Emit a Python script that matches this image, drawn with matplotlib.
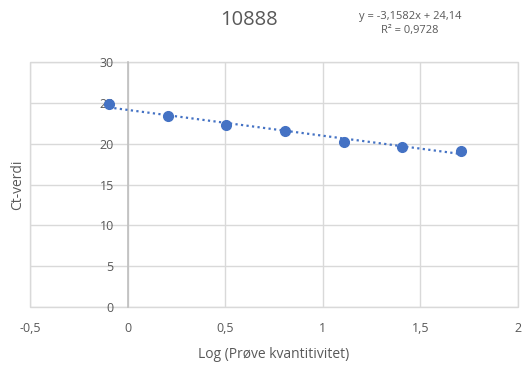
import matplotlib.pyplot as plt
import numpy as np
from matplotlib.patches import Rectangle

plt.rcParams['font.family'] = ['Open Sans', 'DejaVu Sans']

# data
log_qty = [-0.097, 0.204, 0.505, 0.806, 1.107, 1.408, 1.709]
ct = [24.85, 23.42, 22.30, 21.55, 20.20, 19.60, 19.15]
slope = -3.1582
intercept = 24.14
xticks = [-0.5, 0, 0.5, 1, 1.5, 2]
xtick_labels = ['-0,5', '0', '0,5', '1', '1,5', '2']
yticks = [0, 5, 10, 15, 20, 25, 30]

txt = '#595959'
grid = '#d9d9d9'

fig = plt.figure(figsize=(5.29, 3.67), dpi=100)
ax = fig.add_axes([0.057, 0.163, 0.922, 0.668])

ax.set_xlim(-0.5, 2)
ax.set_ylim(0, 30)
ax.set_xticks(xticks)
ax.set_xticklabels(xtick_labels)
ax.set_yticks(yticks)

ax.grid(True, color=grid, linewidth=1)
ax.set_axisbelow(True)

for s in ['top', 'right', 'bottom']:
    ax.spines[s].set_visible(False)
ax.spines['left'].set_position(('data', 0))
ax.spines['left'].set_color('#bfbfbf')
ax.spines['left'].set_linewidth(1.2)
ax.add_patch(Rectangle((0, 0), 1, 1, transform=ax.transAxes, fill=False,
                       edgecolor=grid, linewidth=1, clip_on=False, zorder=0.5))

ax.tick_params(axis='both', length=0, colors=txt, labelsize=9)
ax.tick_params(axis='x', pad=11)
ax.tick_params(axis='y', pad=10)

xs = np.array([min(log_qty), max(log_qty)])
ax.plot(xs, slope * xs + intercept, linestyle=(0, (1, 1.5)), color='#4472C4',
        linewidth=1.6, zorder=3)
ax.plot(log_qty, ct, 'o', color='#4472C4', markersize=7, zorder=4)

ax.set_xlabel('Log (Prøve kvantitivitet)', fontsize=10, color=txt, labelpad=8)
fig.text(0.034, 0.497, 'Ct-verdi', rotation=90, fontsize=10, color=txt,
         ha='center', va='center')

fig.text(0.471, 0.945, '10888', fontsize=14.5, color=txt, ha='center', va='center')
fig.text(0.775, 0.956, 'y = -3,1582x + 24,14', fontsize=8, color=txt,
         ha='center', va='center')
fig.text(0.775, 0.916, 'R² = 0,9728', fontsize=8, color=txt,
         ha='center', va='center')

fig.savefig('out.png', dpi=100)
